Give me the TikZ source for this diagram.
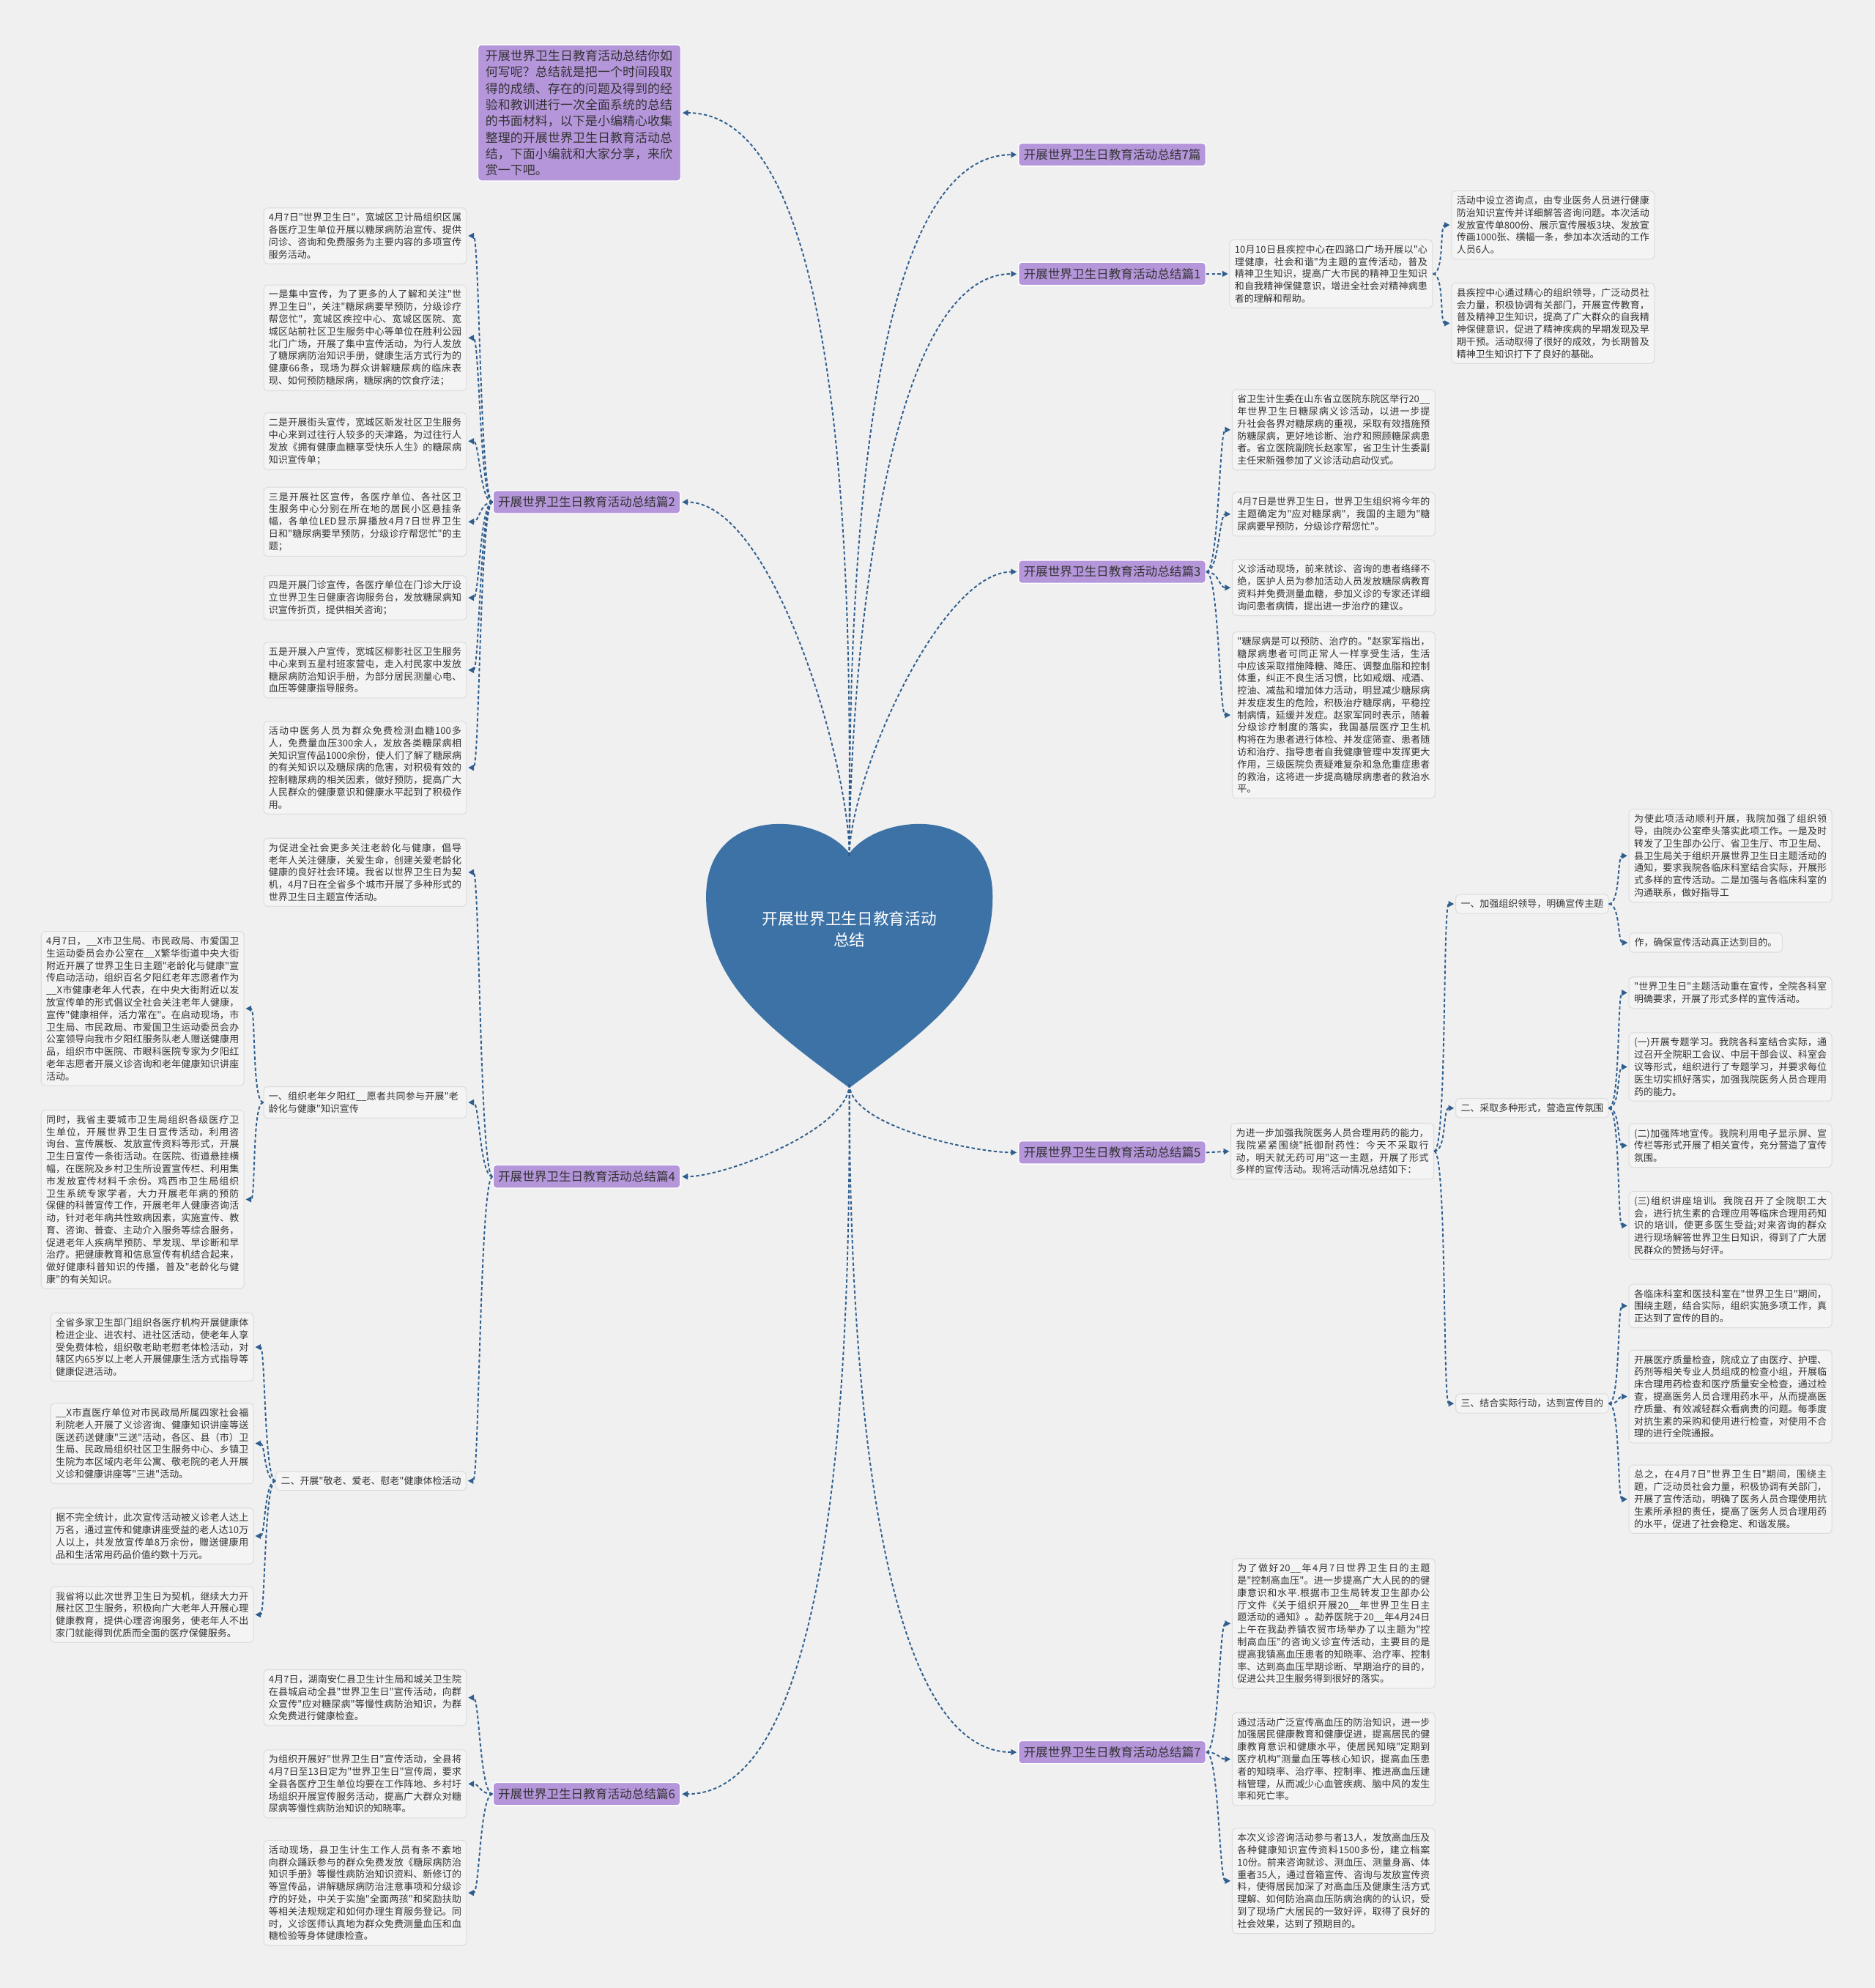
\documentclass[tikz,border=0pt]{standalone}
\usepackage{fontspec}
\newfontfamily\cjkfont{Noto Sans CJK SC}
\usetikzlibrary{arrows.meta}
\XeTeXlinebreaklocale "zh"
\XeTeXlinebreakskip=0pt plus 1pt

\begin{document}
\begin{tikzpicture}[x=1pt, y=-1pt, font=\cjkfont,
    link/.style={draw=linkBlue, line width=1.1pt, dash pattern=on 2.6pt off 1.8pt,
        -{Triangle[length=4.5pt, width=4.5pt]}, shorten >=1pt},
    topic/.style={fill=topicPurple, draw=white, line width=0.8pt, rounded corners=2.5pt,
        inner xsep=4pt, inner ysep=4.6pt, text=textGray, font=\cjkfont\fontsize{9.6}{11}\selectfont},
    card/.style={fill=cardFill, draw=cardLine, line width=0.6pt, rounded corners=3pt,
        inner xsep=4pt, inner ysep=4pt, text=textGray, font=\cjkfont\fontsize{7.5}{9.7}\selectfont},
    leaf/.style={card, text width=152pt, align=justify}
]
    % Colori
    \definecolor{bgGray}{HTML}{F0F0F0}
    \definecolor{heartBlue}{HTML}{3C72A6}
    \definecolor{topicPurple}{HTML}{B596DB}
    \definecolor{cardFill}{HTML}{F4F4F4}
    \definecolor{cardLine}{HTML}{DCDCDC}
    \definecolor{linkBlue}{HTML}{2F5E8E}
    \definecolor{textGray}{HTML}{333333}

    % Sfondo
    \useasboundingbox (0,0) rectangle (1479,1568);
    \fill[bgGray] (0,0) rectangle (1479,1568);

    % Cuore centrale
    \fill[heartBlue] (670,673) .. controls (645,640) and (557,635) .. (557,707)
        .. controls (557,775) and (605,810) .. (670,858)
        .. controls (735,810) and (783,775) .. (783,707)
        .. controls (783,635) and (695,640) .. (670,673) -- cycle;
    \node[text=white, align=center, font=\cjkfont\fontsize{12.5}{17}\selectfont] (root) at (670,733)
        {开展世界卫生日教育活动\\总结};
    \coordinate (rootTop) at (670,675);
    \coordinate (rootBot) at (670,855);

    % Introduzione
    \node[topic, text width=148pt, inner xsep=6pt, inner ysep=4pt, align=left,
        font=\cjkfont\fontsize{9.8}{12.9}\selectfont] (intro) at (457,89)
        {开展世界卫生日教育活动总结你如何写呢？总结就是把一个时间段取得的成绩、存在的问题及得到的经验和教训进行一次全面系统的总结的书面材料，以下是小编精心收集整理的开展世界卫生日教育活动总结，下面小编就和大家分享，来欣赏一下吧。};

    % Rami principali
    \node[topic, anchor=west] (sum7) at (803,122) {开展世界卫生日教育活动总结7篇};
    \node[topic, anchor=west] (p1) at (803,216) {开展世界卫生日教育活动总结篇1};
    \node[topic, anchor=west] (p3) at (803,451) {开展世界卫生日教育活动总结篇3};
    \node[topic, anchor=west] (p5) at (803,909) {开展世界卫生日教育活动总结篇5};
    \node[topic, anchor=west] (p7) at (803,1382) {开展世界卫生日教育活动总结篇7};
    \node[topic, anchor=east] (p2) at (537,396) {开展世界卫生日教育活动总结篇2};
    \node[topic, anchor=east] (p4) at (537,928) {开展世界卫生日教育活动总结篇4};
    \node[topic, anchor=east] (p6) at (537,1415) {开展世界卫生日教育活动总结篇6};

    % Ramo 1
    \node[leaf] (p1t) at (1050,216) {10月10日县疾控中心在四路口广场开展以"心理健康，社会和谐"为主题的宣传活动，普及精神卫生知识，提高广大市民的精神卫生知识和自我精神保健意识，增进全社会对精神病患者的理解和帮助。};
    \node[leaf] (p1a) at (1225,177.5) {活动中设立咨询点，由专业医务人员进行健康防治知识宣传并详细解答咨询问题。本次活动发放宣传单800份、展示宣传展板3块、发放宣传画1000张、横幅一条，参加本次活动的工作人员6人。};
    \node[leaf] (p1b) at (1225,255) {县疾控中心通过精心的组织领导，广泛动员社会力量，积极协调有关部门，开展宣传教育，普及精神卫生知识，提高了广大群众的自我精神保健意识，促进了精神疾病的早期发现及早期干预。活动取得了很好的成效，为长期普及精神卫生知识打下了良好的基础。};

    % Ramo 3
    \node[leaf] (p3a) at (1052,339) {省卫生计生委在山东省立医院东院区举行20\_\_年世界卫生日糖尿病义诊活动，以进一步提升社会各界对糖尿病的重视，采取有效措施预防糖尿病，更好地诊断、治疗和照顾糖尿病患者。省立医院副院长赵家军，省卫生计生委副主任宋新强参加了义诊活动启动仪式。};
    \node[leaf] (p3b) at (1052,405.5) {4月7日是世界卫生日，世界卫生组织将今年的主题确定为"应对糖尿病"，我国的主题为"糖尿病要早预防，分级诊疗帮您忙"。};
    \node[leaf] (p3c) at (1052,463.5) {义诊活动现场，前来就诊、咨询的患者络绎不绝，医护人员为参加活动人员发放糖尿病教育资料并免费测量血糖，参加义诊的专家还详细询问患者病情，提出进一步治疗的建议。};
    \node[leaf] (p3d) at (1052,564) {"糖尿病是可以预防、治疗的。"赵家军指出，糖尿病患者可同正常人一样享受生活，生活中应该采取措施降糖、降压、调整血脂和控制体重，纠正不良生活习惯，比如戒烟、戒酒、控油、减盐和增加体力活动，明显减少糖尿病并发症发生的危险，积极治疗糖尿病，平稳控制病情，延缓并发症。赵家军同时表示，随着分级诊疗制度的落实，我国基层医疗卫生机构将在为患者进行体检、并发症筛查、患者随访和治疗、指导患者自我健康管理中发挥更大作用，三级医院负责疑难复杂和急危重症患者的救治，这将进一步提高糖尿病患者的救治水平。};

    % Ramo 5
    \node[leaf] (p5t) at (1051,908) {为进一步加强我院医务人员合理用药的能力，我院紧紧围绕"抵御耐药性：今天不采取行动，明天就无药可用"这一主题，开展了形式多样的宣传活动。现将活动情况总结如下：};
    \node[card, anchor=west] (p5h1) at (1148,713) {一、加强组织领导，明确宣传主题};
    \node[card, anchor=west] (p5h2) at (1148,874) {二、采取多种形式，营造宣传氛围};
    \node[card, anchor=west] (p5h3) at (1148,1107) {三、结合实际行动，达到宣传目的};
    \node[leaf] (p5h1a) at (1365,675) {为使此项活动顺利开展，我院加强了组织领导，由院办公室牵头落实此项工作。一是及时转发了卫生部办公厅、省卫生厅、市卫生局、县卫生局关于组织开展世界卫生日主题活动的通知，要求我院各临床科室结合实际，开展形式多样的宣传活动。二是加强与各临床科室的沟通联系，做好指导工};
    \node[card, anchor=west] (p5h1b) at (1285,743.5) {作，确保宣传活动真正达到目的。};
    \node[leaf] (p5h2a) at (1365,783) {"世界卫生日"主题活动重在宣传，全院各科室明确要求，开展了形式多样的宣传活动。};
    \node[leaf] (p5h2b) at (1365,841.5) {(一)开展专题学习。我院各科室结合实际，通过召开全院职工会议、中层干部会议、科室会议等形式，组织进行了专题学习，并要求每位医生切实抓好落实，加强我院医务人员合理用药的能力。};
    \node[leaf] (p5h2c) at (1365,903.5) {(二)加强阵地宣传。我院利用电子显示屏、宣传栏等形式开展了相关宣传，充分营造了宣传氛围。};
    \node[leaf] (p5h2d) at (1365,966.5) {(三)组织讲座培训。我院召开了全院职工大会，进行抗生素的合理应用等临床合理用药知识的培训，使更多医生受益;对来咨询的群众进行现场解答世界卫生日知识，得到了广大居民群众的赞扬与好评。};
    \node[leaf] (p5h3a) at (1365,1030) {各临床科室和医技科室在"世界卫生日"期间，围绕主题，结合实际，组织实施多项工作，真正达到了宣传的目的。};
    \node[leaf] (p5h3b) at (1365,1101.5) {开展医疗质量检查，院成立了由医疗、护理、药剂等相关专业人员组成的检查小组，开展临床合理用药检查和医疗质量安全检查，通过检查，提高医务人员合理用药水平，从而提高医疗质量、有效减轻群众看病贵的问题。每季度对抗生素的采购和使用进行检查，对使用不合理的进行全院通报。};
    \node[leaf] (p5h3c) at (1365,1182.5) {总之，在4月7日"世界卫生日"期间，围绕主题，广泛动员社会力量，积极协调有关部门，开展了宣传活动，明确了医务人员合理使用抗生素所承担的责任，提高了医务人员合理用药的水平，促进了社会稳定、和谐发展。};

    % Ramo 7
    \node[leaf] (p7a) at (1052,1280.5) {为了做好20\_\_年4月7日世界卫生日的主题是"控制高血压"。进一步提高广大人民的的健康意识和水平.根据市卫生局转发卫生部办公厅文件《关于组织开展20\_\_年世界卫生日主题活动的通知》。勐养医院于20\_\_年4月24日上午在我勐养镇农贸市场举办了以主题为"控制高血压"的咨询义诊宣传活动，主要目的是提高我镇高血压患者的知晓率、治疗率、控制率、达到高血压早期诊断、早期治疗的目的，促进公共卫生服务得到很好的落实。};
    \node[leaf] (p7b) at (1052,1387.5) {通过活动广泛宣传高血压的防治知识，进一步加强居民健康教育和健康促进，提高居民的健康教育意识和健康水平，使居民知晓"定期到医疗机构"测量血压等核心知识，提高血压患者的知晓率、治疗率、控制率、推进高血压建档管理，从而减少心血管疾病、脑中风的发生率和死亡率。};
    \node[leaf] (p7c) at (1052,1483.5) {本次义诊咨询活动参与者13人，发放高血压及各种健康知识宣传资料1500多份，建立档案10份。前来咨询就诊、测血压、测量身高、体重者35人，通过音箱宣传、咨询与发放宣传资料，使得居民加深了对高血压及健康生活方式理解、如何防治高血压防病治病的的认识，受到了现场广大居民的一致好评，取得了良好的社会效果，达到了预期目的。};

    % Ramo 2
    \node[leaf] (p2a) at (288,186) {4月7日"世界卫生日"，宽城区卫计局组织区属各医疗卫生单位开展以糖尿病防治宣传、提供问诊、咨询和免费服务为主要内容的多项宣传服务活动。};
    \node[leaf] (p2b) at (288,266.5) {一是集中宣传，为了更多的人了解和关注"世界卫生日"，关注"糖尿病要早预防，分级诊疗帮您忙"，宽城区疾控中心、宽城区医院、宽城区站前社区卫生服务中心等单位在胜利公园北门广场，开展了集中宣传活动，为行人发放了糖尿病防治知识手册，健康生活方式行为的健康66条，现场为群众讲解糖尿病的临床表现、如何预防糖尿病，糖尿病的饮食疗法；};
    \node[leaf] (p2c) at (288,348) {二是开展街头宣传，宽城区新发社区卫生服务中心来到过往行人较多的天津路，为过往行人发放《拥有健康血糖享受快乐人生》的糖尿病知识宣传单；};
    \node[leaf] (p2d) at (288,411.5) {三是开展社区宣传，各医疗单位、各社区卫生服务中心分别在所在地的居民小区悬挂条幅，各单位LED显示屏播放4月7日世界卫生日和"糖尿病要早预防，分级诊疗帮您忙"的主题；};
    \node[leaf] (p2e) at (288,471.5) {四是开展门诊宣传，各医疗单位在门诊大厅设立世界卫生日健康咨询服务台，发放糖尿病知识宣传折页，提供相关咨询；};
    \node[leaf] (p2f) at (288,528.5) {五是开展入户宣传，宽城区柳影社区卫生服务中心来到五星村班家营屯，走入村民家中发放糖尿病防治知识手册，为部分居民测量心电、血压等健康指导服务。};
    \node[leaf] (p2g) at (288,605.5) {活动中医务人员为群众免费检测血糖100多人，免费量血压300余人，发放各类糖尿病相关知识宣传品1000余份，使人们了解了糖尿病的有关知识以及糖尿病的危害，对积极有效的控制糖尿病的相关因素，做好预防，提高广大人民群众的健康意识和健康水平起到了积极作用。};

    % Ramo 4
    \node[leaf] (p4a) at (288,688) {为促进全社会更多关注老龄化与健康，倡导老年人关注健康，关爱生命，创建关爱老龄化健康的良好社会环境。我省以世界卫生日为契机，4月7日在全省多个城市开展了多种形式的世界卫生日主题宣传活动。};
    \node[leaf, align=left] (p4h1) at (288,869.5) {一、组织老年夕阳红\_\_愿者共同参与开展"老龄化与健康"知识宣传};
    \node[card, anchor=east] (p4h2) at (368,1168) {二、开展"敬老、爱老、慰老"健康体检活动};
    \node[leaf] (p4h1a) at (112.5,795.5) {4月7日，\_\_X市卫生局、市民政局、市爱国卫生运动委员会办公室在\_\_X繁华街道中央大街附近开展了世界卫生日主题"老龄化与健康"宣传启动活动，组织百名夕阳红老年志愿者作为\_\_X市健康老年人代表，在中央大街附近以发放宣传单的形式倡议全社会关注老年人健康，宣传"健康相伴，活力常在"。在启动现场，市卫生局、市民政局、市爱国卫生运动委员会办公室领导向我市夕阳红服务队老人赠送健康用品，组织市中医院、市眼科医院专家为夕阳红老年志愿者开展义诊咨询和老年健康知识讲座活动。};
    \node[leaf] (p4h1b) at (112.5,946) {同时，我省主要城市卫生局组织各级医疗卫生单位，开展世界卫生日宣传活动，利用咨询台、宣传展板、发放宣传资料等形式，开展卫生日宣传一条街活动。在医院、街道悬挂横幅，在医院及乡村卫生所设置宣传栏、利用集市发放宣传材料千余份。鸡西市卫生局组织卫生系统专家学者，大力开展老年病的预防保健的科普宣传工作，开展老年人健康咨询活动，针对老年病共性致病因素，实施宣传、教育、咨询、普查、主动介入服务等综合服务，促进老年人疾病早预防、早发现、早诊断和早治疗。把健康教育和信息宣传有机结合起来，做好健康科普知识的传播，普及"老龄化与健康"的有关知识。};
    \node[leaf] (p4h2a) at (120,1062.5) {全省多家卫生部门组织各医疗机构开展健康体检进企业、进农村、进社区活动，使老年人享受免费体检，组织敬老助老慰老体检活动，对辖区内65岁以上老人开展健康生活方式指导等健康促进活动。};
    \node[leaf] (p4h2b) at (120,1138.5) {\_\_X市直医疗单位对市民政局所属四家社会福利院老人开展了义诊咨询、健康知识讲座等送医送药送健康"三送"活动，各区、县（市）卫生局、民政局组织社区卫生服务中心、乡镇卫生院为本区域内老年公寓、敬老院的老人开展义诊和健康讲座等"三进"活动。};
    \node[leaf] (p4h2c) at (120,1211.5) {据不完全统计，此次宣传活动被义诊老人达上万名，通过宣传和健康讲座受益的老人达10万人以上，共发放宣传单8万余份，赠送健康用品和生活常用药品价值约数十万元。};
    \node[leaf] (p4h2d) at (120,1273.5) {我省将以此次世界卫生日为契机，继续大力开展社区卫生服务，积极向广大老年人开展心理健康教育，提供心理咨询服务，使老年人不出家门就能得到优质而全面的医疗保健服务。};

    % Ramo 6
    \node[leaf] (p6a) at (288,1339) {4月7日，湖南安仁县卫生计生局和城关卫生院在县城启动全县"世界卫生日"宣传活动，向群众宣传"应对糖尿病"等慢性病防治知识，为群众免费进行健康检查。};
    \node[leaf] (p6b) at (288,1407) {为组织开展好"世界卫生日"宣传活动，全县将4月7日至13日定为"世界卫生日"宣传周，要求全县各医疗卫生单位均要在工作阵地、乡村圩场组织开展宣传服务活动，提高广大群众对糖尿病等慢性病防治知识的知晓率。};
    \node[leaf] (p6c) at (288,1493) {活动现场，县卫生计生工作人员有条不紊地向群众踊跃参与的群众免费发放《糖尿病防治知识手册》等慢性病防治知识资料、新修订的等宣传品，讲解糖尿病防治注意事项和分级诊疗的好处，中关于实施"全面两孩"和奖励扶助等相关法规规定和如何办理生育服务登记。同时，义诊医师认真地为群众免费测量血压和血糖检验等身体健康检查。};

    % Collegamenti dal centro
    \draw[link] (rootTop) to[out=90, in=0, looseness=0.6] (intro.east);
    \draw[link] (rootTop) to[out=90, in=180, looseness=0.6] (sum7.west);
    \draw[link] (rootTop) to[out=90, in=180, looseness=0.6] (p1.west);
    \draw[link] (rootTop) to[out=90, in=0, looseness=0.6] (p2.east);
    \draw[link] (rootTop) to[out=90, in=180, looseness=0.6] (p3.west);
    \draw[link] (rootBot) to[out=-90, in=0, looseness=0.6] (p4.east);
    \draw[link] (rootBot) to[out=-90, in=180, looseness=0.6] (p5.west);
    \draw[link] (rootBot) to[out=-90, in=0, looseness=0.6] (p6.east);
    \draw[link] (rootBot) to[out=-90, in=180, looseness=0.6] (p7.west);

    % Collegamenti ramo 1
    \draw[link] (p1.east) -- (p1t.west);
    \draw[link] (p1t.east) .. controls +(9,0) and +(-9,0) .. (p1a.west);
    \draw[link] (p1t.east) .. controls +(9,0) and +(-9,0) .. (p1b.west);

    % Collegamenti ramo 3
    \draw[link] (p3.east) .. controls +(10,0) and +(-10,0) .. (p3a.west);
    \draw[link] (p3.east) .. controls +(10,0) and +(-10,0) .. (p3b.west);
    \draw[link] (p3.east) .. controls +(10,0) and +(-10,0) .. (p3c.west);
    \draw[link] (p3.east) .. controls +(10,0) and +(-10,0) .. (p3d.west);

    % Collegamenti ramo 5
    \draw[link] (p5.east) -- (p5t.west);
    \draw[link] (p5t.east) .. controls +(10,0) and +(-10,0) .. (p5h1.west);
    \draw[link] (p5t.east) .. controls +(10,0) and +(-10,0) .. (p5h2.west);
    \draw[link] (p5t.east) .. controls +(10,0) and +(-10,0) .. (p5h3.west);
    \draw[link] (p5h1.east) .. controls +(9,0) and +(-9,0) .. (p5h1a.west);
    \draw[link] (p5h1.east) .. controls +(9,0) and +(-9,0) .. (p5h1b.west);
    \draw[link] (p5h2.east) .. controls +(9,0) and +(-9,0) .. (p5h2a.west);
    \draw[link] (p5h2.east) .. controls +(9,0) and +(-9,0) .. (p5h2b.west);
    \draw[link] (p5h2.east) .. controls +(9,0) and +(-9,0) .. (p5h2c.west);
    \draw[link] (p5h2.east) .. controls +(9,0) and +(-9,0) .. (p5h2d.west);
    \draw[link] (p5h3.east) .. controls +(9,0) and +(-9,0) .. (p5h3a.west);
    \draw[link] (p5h3.east) .. controls +(9,0) and +(-9,0) .. (p5h3b.west);
    \draw[link] (p5h3.east) .. controls +(9,0) and +(-9,0) .. (p5h3c.west);

    % Collegamenti ramo 7
    \draw[link] (p7.east) .. controls +(10,0) and +(-10,0) .. (p7a.west);
    \draw[link] (p7.east) .. controls +(10,0) and +(-10,0) .. (p7b.west);
    \draw[link] (p7.east) .. controls +(10,0) and +(-10,0) .. (p7c.west);

    % Collegamenti ramo 2
    \draw[link] (p2.west) .. controls +(-10,0) and +(10,0) .. (p2a.east);
    \draw[link] (p2.west) .. controls +(-10,0) and +(10,0) .. (p2b.east);
    \draw[link] (p2.west) .. controls +(-10,0) and +(10,0) .. (p2c.east);
    \draw[link] (p2.west) .. controls +(-10,0) and +(10,0) .. (p2d.east);
    \draw[link] (p2.west) .. controls +(-10,0) and +(10,0) .. (p2e.east);
    \draw[link] (p2.west) .. controls +(-10,0) and +(10,0) .. (p2f.east);
    \draw[link] (p2.west) .. controls +(-10,0) and +(10,0) .. (p2g.east);

    % Collegamenti ramo 4
    \draw[link] (p4.west) .. controls +(-10,0) and +(10,0) .. (p4a.east);
    \draw[link] (p4.west) .. controls +(-10,0) and +(10,0) .. (p4h1.east);
    \draw[link] (p4.west) .. controls +(-10,0) and +(10,0) .. (p4h2.east);
    \draw[link] (p4h1.west) .. controls +(-9,0) and +(9,0) .. (p4h1a.east);
    \draw[link] (p4h1.west) .. controls +(-9,0) and +(9,0) .. (p4h1b.east);
    \draw[link] (p4h2.west) .. controls +(-9,0) and +(9,0) .. (p4h2a.east);
    \draw[link] (p4h2.west) .. controls +(-9,0) and +(9,0) .. (p4h2b.east);
    \draw[link] (p4h2.west) .. controls +(-9,0) and +(9,0) .. (p4h2c.east);
    \draw[link] (p4h2.west) .. controls +(-9,0) and +(9,0) .. (p4h2d.east);

    % Collegamenti ramo 6
    \draw[link] (p6.west) .. controls +(-10,0) and +(10,0) .. (p6a.east);
    \draw[link] (p6.west) .. controls +(-10,0) and +(10,0) .. (p6b.east);
    \draw[link] (p6.west) .. controls +(-10,0) and +(10,0) .. (p6c.east);

\end{tikzpicture}
\end{document}
